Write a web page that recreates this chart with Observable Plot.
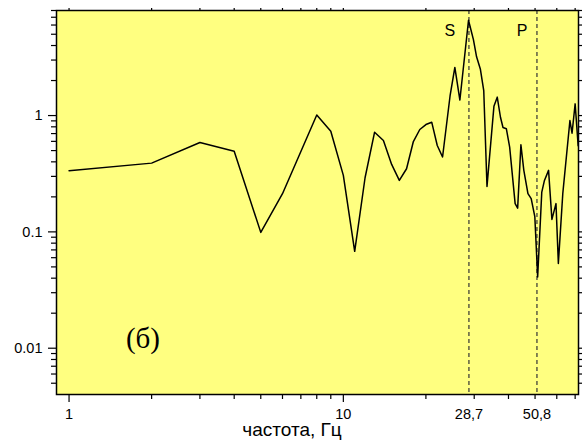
<!DOCTYPE html>
<html>
<head>
<meta charset="utf-8">
<script src="https://cdn.jsdelivr.net/npm/d3@7"></script>
<script src="https://cdn.jsdelivr.net/npm/@observablehq/plot@0.6"></script>
<style>
  html, body { margin: 0; padding: 0; background: white; }
</style>
</head>
<body>
<div id="chart"></div>
<script>
// Spectrum data (frequency in Hz, amplitude)
const freq = [1, 2, 3, 4, 5, 6, 8, 9, 10, 11, 12, 13, 14, 15, 16, 17, 18, 19, 20, 21, 22, 23,
  24.5, 25.5, 26.6, 28.6, 29.8, 30.6, 31.6, 32.5, 33.4, 35.4, 36.4, 37.4, 38.2, 39.3, 40.4,
  42.3, 43.2, 44.4, 45.5, 47.1, 48.4, 49.9, 51.1, 52.9, 54.1, 56.0, 57.6, 59.6, 60.8, 63.1,
  67.0, 68.2, 70.0, 71.8];
const amp = [0.335, 0.39, 0.587, 0.494, 0.099, 0.213, 1.01, 0.734, 0.306, 0.068, 0.292, 0.719,
  0.61, 0.38, 0.277, 0.349, 0.598, 0.759, 0.837, 0.877, 0.553, 0.44,
  1.48, 2.59, 1.36, 6.6, 4.5, 3.2, 2.5, 1.64, 0.246, 1.2, 1.44, 0.967, 0.79, 0.77, 0.535,
  0.175, 0.16, 0.561, 0.338, 0.213, 0.193, 0.135, 0.041, 0.22, 0.277, 0.338, 0.128, 0.175,
  0.0536, 0.213, 0.906, 0.705, 1.26, 0.55];

// Marker lines (S and P waves)
const markerNames = ["S", "P"];
const markerFreqs = [28.7, 50.8];

// Axis ticks and labels
const xMajor = [1, 10];
const xMinor = [2, 3, 4, 5, 6, 7, 8, 9, 20, 30, 40, 50, 60, 70];
const xLabelPos = [1, 10, 28.7, 50.8];
const xLabels = ["1", "10", "28,7", "50,8"];
const yMajor = [0.01, 0.1, 1];
const yLabels = ["0.01", "0.1", "1"];
const yMinor = [0.005, 0.006, 0.007, 0.008, 0.009,
  0.02, 0.03, 0.04, 0.05, 0.06, 0.07, 0.08, 0.09,
  0.2, 0.3, 0.4, 0.5, 0.6, 0.7, 0.8, 0.9,
  2, 3, 4, 5, 6, 7, 8];
const xTitle = "частота, Гц";
const panelLabel = "(б)";

const data = freq.map((f, i) => ({f, a: amp[i]}));

const chart = Plot.plot({
  width: 582,
  height: 445,
  marginLeft: 56,
  marginRight: 4,
  marginTop: 10,
  marginBottom: 51,
  x: {type: "log", domain: [0.9, 72], axis: null},
  y: {type: "log", domain: [0.004, 8], axis: null},
  style: {fontFamily: "Arial, 'Liberation Sans', sans-serif", fontSize: "14.5px", background: "white", color: "black"},
  marks: [
    Plot.frame({fill: "#ffff80", stroke: null}),
    Plot.ruleX(markerFreqs, {stroke: "#333", strokeWidth: 1.2, strokeDasharray: "4,3"}),
    Plot.line(data, {x: "f", y: "a", stroke: "black", strokeWidth: 1.5, clip: true}),
    // marker labels
    Plot.text([markerNames[0]], {x: [markerFreqs[0]], text: d => d, frameAnchor: "top", dy: 20, dx: -19, fontSize: 16, lineAnchor: "middle"}),
    Plot.text([markerNames[1]], {x: [markerFreqs[1]], text: d => d, frameAnchor: "top", dy: 20, dx: -15, fontSize: 16, lineAnchor: "middle"}),
    // panel label
    Plot.text([panelLabel], {x: [1.86], y: [0.0121], text: d => d, fontFamily: "'Liberation Serif', 'Times New Roman', serif", fontSize: 29, lineAnchor: "middle"}),
    // bottom axis
    Plot.axisX({anchor: "bottom", ticks: xMajor, tickSize: 8, tickFormat: () => "", label: null, strokeWidth: 1.2}),
    Plot.axisX({anchor: "bottom", ticks: xMinor, tickSize: 5, tickFormat: () => "", label: null, strokeWidth: 1.2}),
    Plot.text(xLabelPos, {x: d => d, text: (d, i) => xLabels[i], frameAnchor: "bottom", dy: 20, lineAnchor: "middle"}),
    Plot.text([xTitle], {x: [6.5], text: d => d, frameAnchor: "bottom", dy: 35, lineAnchor: "middle", fontSize: 19}),
    // top axis
    Plot.axisX({anchor: "top", ticks: xMajor.concat(xMinor), tickSize: 3, tickFormat: () => "", label: null, strokeWidth: 1.2}),
    // left axis
    Plot.axisY({anchor: "left", ticks: yMajor, tickSize: 8, tickPadding: 6, tickFormat: d => yLabels[yMajor.indexOf(d)], label: null, strokeWidth: 1.2}),
    Plot.axisY({anchor: "left", ticks: yMinor, tickSize: 5, tickFormat: () => "", label: null, strokeWidth: 1.2}),
    // right axis
    Plot.axisY({anchor: "right", ticks: yMajor.concat(yMinor), tickSize: 4, tickFormat: () => "", label: null, strokeWidth: 1.2}),
    Plot.frame({stroke: "black", strokeWidth: 1.5})
  ]
});
document.getElementById("chart").appendChild(chart);
</script>
</body>
</html>
